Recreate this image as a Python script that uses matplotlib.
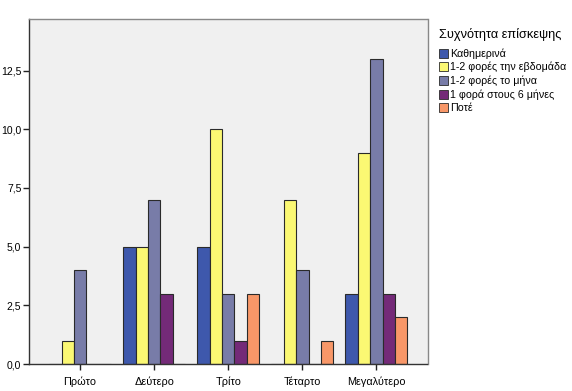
import numpy as np
import matplotlib.pyplot as plt

plt.rcParams['font.family'] = ['Liberation Sans', 'DejaVu Sans']

categories = ['Πρώτο', 'Δεύτερο', 'Τρίτο', 'Τέταρτο', 'Μεγαλύτερο']
series_names = ['Καθημερινά', '1-2 φορές την εβδομάδα', '1-2 φορές το μήνα',
                '1 φορά στους 6 μήνες', 'Ποτέ']
kathimerina = [0, 5, 5, 0, 3]
evdomada = [1, 5, 10, 7, 9]
mina = [4, 7, 3, 4, 13]
exi_mines = [0, 3, 1, 0, 3]
pote = [0, 0, 3, 1, 2]
colors = ['#3e58ac', '#fbf873', '#787ca8', '#742a78', '#f89768']
yticks = [0, 2.5, 5, 7.5, 10, 12.5]

series = [kathimerina, evdomada, mina, exi_mines, pote]

fig = plt.figure(figsize=(5.72, 3.91), dpi=100)
ax = fig.add_axes([29/572, 27/391, 398.5/572, 345/391])
ax.set_facecolor('#f0f0f0')

x = np.arange(len(categories))
w = 0.167
for i, (vals, name, c) in enumerate(zip(series, series_names, colors)):
    ax.bar(x + (i - 2) * w, vals, width=w, color=c, edgecolor='#2a2a2a',
           linewidth=0.8, label=name)

ax.set_xlim(-0.69, 4.69)
ax.set_ylim(0, 14.7)
ax.set_xticks(x)
ax.set_xticklabels(categories, fontsize=7.8)
ax.set_yticks(yticks)
ax.set_yticklabels([f'{t:.1f}'.replace('.', ',') for t in yticks], fontsize=7.5)
ax.tick_params(direction='out', length=4, width=1, color='#222222', pad=1.5)
ax.tick_params(axis='x', pad=5)
for s in ax.spines.values():
    s.set_color('#333333')
    s.set_linewidth(1)
ax.spines['top'].set_color('#888888')
ax.spines['right'].set_color('#888888')

leg = fig.legend(loc='upper left', bbox_to_anchor=(434/572, 1 - 23/391),
                 title='Συχνότητα επίσκεψης', fontsize=7.7, title_fontsize=9.2,
                 frameon=False, handlelength=0.8, handleheight=0.9,
                 handletextpad=0.2, labelspacing=0.3, borderpad=0,
                 alignment='left')
leg._legend_box.sep = 5
for h in leg.legend_handles:
    h.set_linewidth(0.6)

fig.savefig('out.png', dpi=100)
